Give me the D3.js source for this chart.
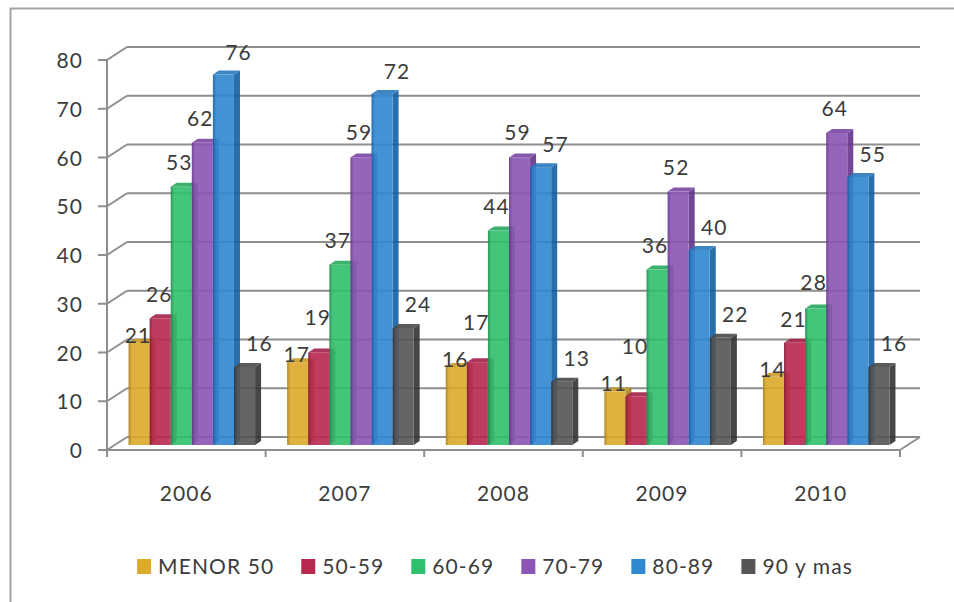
<!DOCTYPE html>
<html>
<head>
<meta charset="utf-8">
<script src="https://cdn.jsdelivr.net/npm/d3@7"></script>
<style>
  html, body { margin: 0; padding: 0; background: #fff; }
  svg { display: block; }
  text { font-family: Lato, "Open Sans", sans-serif; fill: #3c3c3c; letter-spacing: 1.1px; }
</style>
</head>
<body>
<svg id="chart" width="954" height="602"></svg>
<script>
// Casos por grupo de edad y año
const categories = ["2006", "2007", "2008", "2009", "2010"];
const seriesNames = ["MENOR 50", "50-59", "60-69", "70-79", "80-89", "90 y mas"];
const menor50 = [21, 17, 16, 11, 14];
const edad5059 = [26, 19, 17, 10, 21];
const edad6069 = [53, 37, 44, 36, 28];
const edad7079 = [62, 59, 59, 52, 64];
const edad8089 = [76, 72, 57, 40, 55];
const edad90mas = [16, 24, 13, 22, 16];
const yTicks = [0, 10, 20, 30, 40, 50, 60, 70, 80];
const seriesValues = [menor50, edad5059, edad6069, edad7079, edad8089, edad90mas];

// Colores: cara frontal, lateral / borde oscuro, techo
const palette = [
  { front: "#dcaa2c", dark: "#a97f18", top: "#c99b26" },
  { front: "#b8284f", dark: "#86143a", top: "#a3224a" },
  { front: "#2fc06c", dark: "#1a8c4a", top: "#27a85d" },
  { front: "#8c54b4", dark: "#63348a", top: "#7b47a1" },
  { front: "#2f88d0", dark: "#145fa4", top: "#2a78bb" },
  { front: "#555555", dark: "#333333", top: "#494949" }
];

const svg = d3.select("#chart");
const W = 954, H = 602;
const fontSize = 21;

// Plano frontal del área de trazado y vector de profundidad del fondo
const plotLeft = 107, plotRight = 900, plotBase = 450, plotTop = 60;
const depthX = 20, depthY = -13;
// Posición de las barras dentro de la profundidad y su grosor
const barDx = 5.5, barDy = -5, sideDx = 6, sideDy = -4;

const y = d3.scaleLinear().domain([0, 80]).range([plotBase, plotTop]);
const x0 = d3.scaleBand().domain(categories).range([plotLeft, plotRight]);
const x1 = d3.scaleBand().domain(seriesNames).range([0, x0.bandwidth()]).paddingInner(0).paddingOuter(0.76);

// Marco exterior
svg.append("rect")
  .attr("x", 10.5).attr("y", 8.5).attr("width", W + 20).attr("height", H + 20)
  .attr("fill", "#fff").attr("stroke", "#a3a3a3").attr("stroke-width", 2);

const gridColor = "#8e8e8e";
const grid = svg.append("g").attr("stroke", gridColor).attr("stroke-width", 2).attr("fill", "none");

// Líneas de la pared del fondo y diagonales hacia el eje
yTicks.forEach(t => {
  const yf = y(t);
  grid.append("line")
    .attr("x1", plotLeft + depthX).attr("y1", yf + depthY)
    .attr("x2", plotRight + depthX).attr("y2", yf + depthY);
  grid.append("line")
    .attr("x1", plotLeft).attr("y1", yf)
    .attr("x2", plotLeft + depthX).attr("y2", yf + depthY);
});
// Borde derecho del suelo
grid.append("line")
  .attr("x1", plotRight).attr("y1", plotBase)
  .attr("x2", plotRight + depthX).attr("y2", plotBase + depthY);

// Degradados de la cara frontal
const defs = svg.append("defs");
palette.forEach((c, i) => {
  const g = defs.append("linearGradient").attr("id", "grad" + i)
    .attr("x1", "0").attr("x2", "1").attr("y1", "0").attr("y2", "0");
  g.append("stop").attr("offset", "0").attr("stop-color", c.dark);
  g.append("stop").attr("offset", "0.16").attr("stop-color", c.front);
  g.append("stop").attr("offset", "1").attr("stop-color", c.front);
});

// Barras 3D, dibujadas de izquierda a derecha
const bars = svg.append("g");
categories.forEach((cat, ci) => {
  seriesNames.forEach((s, si) => {
    const v = seriesValues[si][ci];
    const c = palette[si];
    const bx = x0(cat) + x1(s) + barDx;
    const bw = x1.bandwidth();
    const by = y(v) + barDy;
    const bb = y(0) + barDy;
    const g = bars.append("g").attr("opacity", 0.9);
    // lateral derecho
    g.append("path")
      .attr("d", `M${bx + bw},${by} L${bx + bw + sideDx},${by + sideDy} L${bx + bw + sideDx},${bb + sideDy} L${bx + bw},${bb} Z`)
      .attr("fill", c.dark);
    // techo
    g.append("path")
      .attr("d", `M${bx},${by} L${bx + sideDx},${by + sideDy} L${bx + bw + sideDx},${by + sideDy} L${bx + bw},${by} Z`)
      .attr("fill", c.top);
    // frente
    g.append("rect")
      .attr("x", bx).attr("y", by).attr("width", bw).attr("height", bb - by)
      .attr("fill", `url(#grad${si})`);
  });
});

// Ejes frontales
const axes = svg.append("g").attr("stroke", gridColor).attr("stroke-width", 2).attr("fill", "none");
axes.append("line").attr("x1", plotLeft).attr("y1", plotTop).attr("x2", plotLeft).attr("y2", plotBase + 7);
axes.append("line").attr("x1", plotLeft - 9).attr("y1", plotBase).attr("x2", plotRight).attr("y2", plotBase);
yTicks.forEach(t => {
  axes.append("line").attr("x1", plotLeft - 9).attr("y1", y(t)).attr("x2", plotLeft).attr("y2", y(t));
});
x0.domain().forEach(cat => {
  axes.append("line").attr("x1", x0(cat)).attr("y1", plotBase).attr("x2", x0(cat)).attr("y2", plotBase + 7);
});
axes.append("line").attr("x1", plotRight).attr("y1", plotBase).attr("x2", plotRight).attr("y2", plotBase + 7);

// Etiquetas del eje Y
svg.append("g").selectAll("text").data(yTicks).join("text")
  .attr("x", 83).attr("y", d => y(d) + 8)
  .attr("text-anchor", "end").attr("font-size", fontSize)
  .text(d => d);

// Etiquetas de categoría
svg.append("g").selectAll("text").data(categories).join("text")
  .attr("x", d => x0(d) + x0.bandwidth() / 2).attr("y", 501)
  .attr("text-anchor", "middle").attr("font-size", fontSize)
  .text(d => d);

// Etiquetas de valor con desplazamiento por serie y separación entre vecinas
const labelDx = [-1, -1, -2, -2, 15, 15];
const labelDy = [-7, -23, -24, -24, -22, -23];
const labels = svg.append("g");
categories.forEach((cat, ci) => {
  let prev = null;
  seriesNames.forEach((s, si) => {
    const v = seriesValues[si][ci];
    const cx = x0(cat) + x1(s) + barDx + x1.bandwidth() / 2 + labelDx[si];
    let cy = y(v) + barDy + labelDy[si];
    if (prev && Math.abs(cx - prev.x) < 30 && Math.abs(cy - prev.y) < 37) cy = prev.y - 37;
    labels.append("text")
      .attr("x", cx).attr("y", cy + 7)
      .attr("text-anchor", "middle").attr("font-size", fontSize)
      .text(v);
    prev = { x: cx, y: cy };
  });
});

// Leyenda
const legend = svg.append("g");
const items = seriesNames.map((s, i) => {
  const g = legend.append("g");
  g.append("rect").attr("x", 0).attr("y", -15).attr("width", 14).attr("height", 15).attr("fill", palette[i].front);
  const t = g.append("text").attr("x", 21).attr("y", 0).attr("font-size", fontSize).text(s);
  return { g, w: 21 + t.node().getComputedTextLength() };
});
const gap = 27;
const total = d3.sum(items, d => d.w) + gap * (items.length - 1);
let lx = 495 - total / 2;
items.forEach(it => {
  it.g.attr("transform", `translate(${lx},574)`);
  lx += it.w + gap;
});
</script>
</body>
</html>
